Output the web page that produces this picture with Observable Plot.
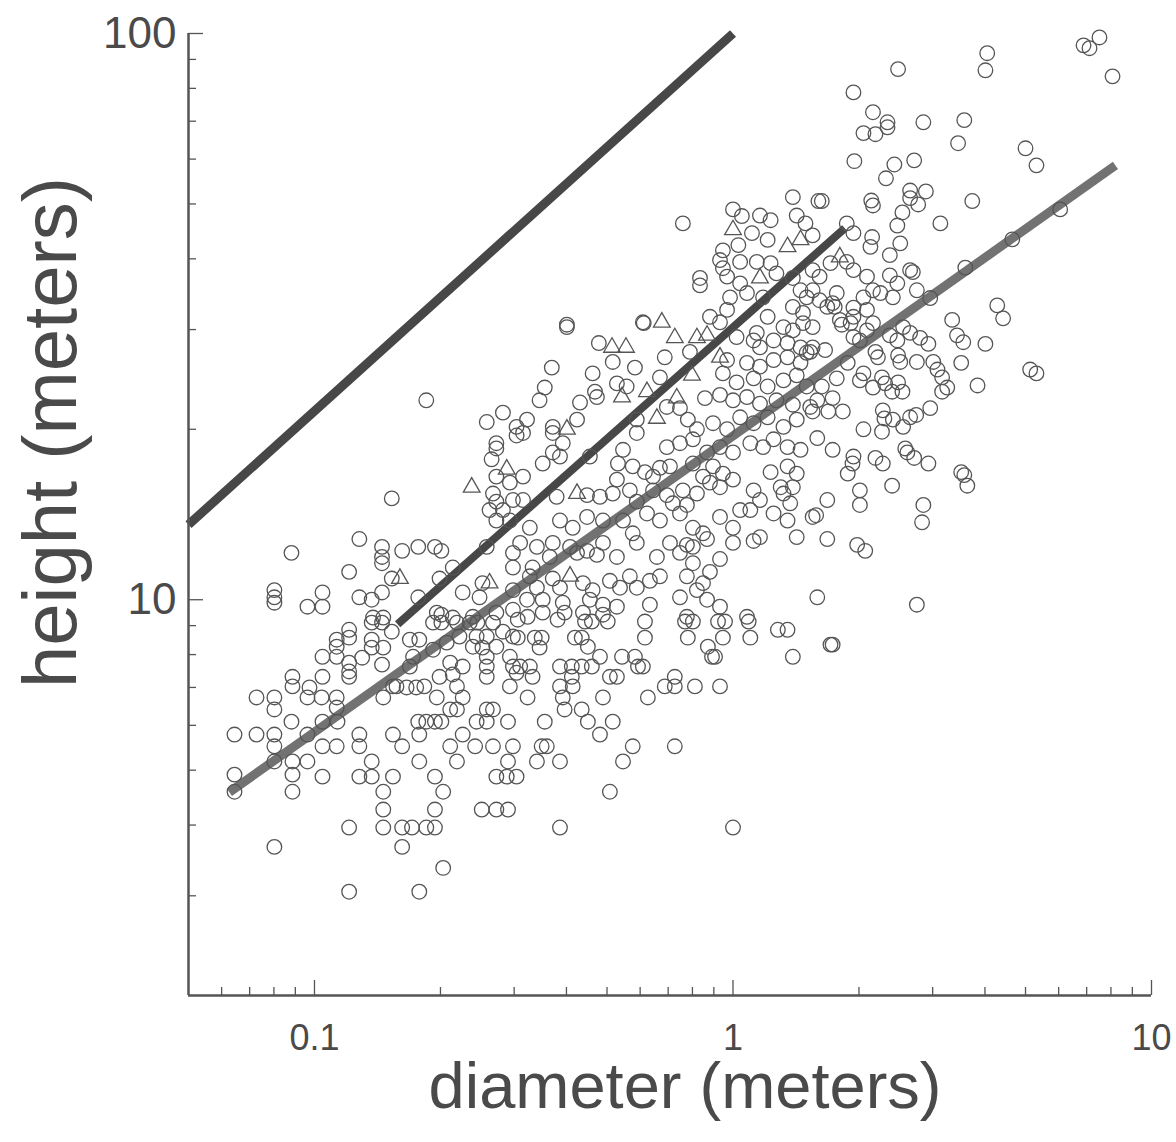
<!DOCTYPE html>
<html>
<head>
<meta charset="utf-8">
<script src="https://cdn.jsdelivr.net/npm/d3@7"></script>
<script src="https://cdn.jsdelivr.net/npm/@observablehq/plot@0.6"></script>
<style>
  html, body { margin: 0; padding: 0; background: #fff; }
  #chart svg { display: block; }
</style>
</head>
<body>
<div id="chart"></div>
<script>
// ---- data: [diameter (m), height (m)] ----
const circles = [
  [7.51,98.4],[6.88,95.3],[7.11,94.2],[4.05,92.3],[4.01,86.1],[8.07,84.0],[2.48,86.5],[1.94,78.7],
  [2.16,72.6],[2.34,69.7],[2.34,68.3],[2.05,66.7],[2.19,66.4],[2.85,69.7],[3.57,70.3],[3.45,64.0],
  [5.00,62.7],[5.31,58.5],[1.95,59.5],[2.43,58.7],[2.71,59.7],[2.32,55.5],[1.63,50.6],[2.14,50.7],
  [2.16,49.7],[2.65,52.8],[2.89,52.6],[2.65,51.2],[2.77,49.9],[3.73,50.6],[2.54,48.3],[2.47,45.8],
  [3.13,46.2],[6.05,48.9],[2.51,42.6],[2.37,40.6],[4.65,43.3],[3.59,38.6],[2.96,34.1],[4.28,33.1],
  [4.42,31.4],[3.34,31.2],[2.37,37.4],[2.47,36.2],[2.65,38.2],[2.69,37.9],[2.75,35.2],[2.25,34.8],
  [2.41,34.2],[2.55,30.3],[1.39,51.4],[1.60,50.6],
  [0.759,46.2],[1.00,48.9],[1.05,47.6],[1.16,47.7],[1.23,46.8],[1.42,47.7],[1.49,46.2],[1.11,44.4],
  [1.21,43.2],[0.946,41.4],[1.03,42.3],[1.55,44.0],[1.87,46.2],[1.94,44.4],[2.15,43.7],[2.13,42.0],
  [0.931,39.8],[0.946,38.5],[1.04,39.5],[1.14,39.5],[1.23,39.3],[0.834,37.0],[0.834,35.9],[1.27,37.7],
  [1.39,37.0],[1.55,38.2],[1.61,37.2],[1.87,39.5],[1.94,38.2],[2.09,37.2],[2.16,35.2],[0.968,37.2],
  [1.04,36.2],[0.984,34.2],[1.08,34.8],[1.18,34.2],[1.45,35.2],[1.50,34.2],[1.55,35.2],[1.61,33.8],
  [1.73,33.4],[1.77,34.8],[1.39,32.9],[1.47,32.1],[1.68,32.9],[0.881,31.6],[0.968,32.5],[1.21,31.6],
  [1.32,30.3],[1.39,29.9],[1.55,30.3],[1.80,31.2],[1.94,31.6],[2.09,32.5],[2.09,29.9],[2.16,30.8],
  [1.14,29.6],[1.71,39.3],[2.05,34.2],[1.75,32.9],[1.94,32.8],[0.609,30.9],[0.401,30.6],
  [3.43,29.3],[3.55,28.5],[4.01,28.3],[3.51,26.2],[3.84,23.9],[5.13,25.5],[5.31,25.1],[2.96,21.8],
  [2.65,21.0],[2.74,21.2],[2.28,21.6],[2.30,20.9],[2.41,20.8],[2.55,20.2],[2.05,20.0],[2.27,19.8],
  [1.59,19.3],[1.73,18.4],[2.58,18.5],[2.61,18.2],[2.71,17.8],[2.93,17.4],[1.94,17.9],[1.93,17.4],
  [1.88,16.7],[2.19,17.8],[2.28,17.4],[3.51,16.8],[3.57,16.6],[3.63,15.9],[2.40,15.9],[2.01,15.6],
  [2.01,14.7],[1.68,15.0],[1.58,14.1],[2.85,14.7],[2.83,13.7],[1.68,12.8],[1.98,12.5],[2.07,12.2],
  [1.59,10.1],[2.75,9.80],[1.82,30.6],[1.91,30.8],[1.66,27.6],[1.53,27.4],[1.94,29.1],[2.01,28.7],
  [2.37,29.3],[2.47,28.7],[2.65,29.6],[2.80,29.0],[2.93,28.3],[2.19,27.4],[2.22,26.8],[2.48,27.0],
  [2.51,26.3],[2.75,26.3],[3.01,26.3],[3.08,25.5],[3.16,24.7],[3.25,23.7],[3.16,23.3],[2.01,24.4],
  [2.05,25.1],[2.16,23.7],[2.27,24.7],[2.31,24.1],[2.48,24.2],[2.40,23.3],[2.54,23.3],[1.88,26.2],
  [1.77,24.6],[1.63,23.8],[1.73,22.7],[1.59,22.5],[1.69,21.5],[1.83,21.5],[1.55,21.5],[1.71,8.33],
  [1.73,8.33],
  [0.401,30.3],[0.612,30.8],[0.931,30.9],[1.47,30.8],[0.478,28.4],[1.02,29.1],[1.12,28.7],[1.16,27.9],
  [1.25,28.7],[1.35,28.4],[1.45,27.9],[1.55,27.9],[0.369,25.7],[0.516,26.3],[0.583,25.7],[0.687,26.8],
  [0.789,27.4],[0.968,26.5],[1.08,26.2],[1.16,25.8],[1.25,26.5],[1.35,26.8],[1.45,26.2],[1.50,27.3],
  [0.462,25.1],[0.528,24.1],[0.557,23.8],[0.669,24.7],[0.946,25.1],[1.02,24.2],[1.12,24.6],[1.21,23.8],
  [1.32,24.4],[1.42,24.9],[1.50,23.8],[0.355,23.7],[0.345,22.5],[0.468,23.3],[0.473,22.8],[0.747,21.8],
  [0.857,22.7],[0.931,23.0],[1.00,22.5],[1.08,22.8],[1.16,22.2],[1.27,22.5],[1.39,22.1],[1.53,21.9],
  [0.431,22.3],[0.695,21.9],[0.322,20.8],[0.424,20.8],[0.371,20.2],[0.371,19.7],[0.589,20.8],[0.780,20.8],
  [0.820,20.0],[0.896,20.5],[0.968,20.0],[1.04,21.0],[1.12,20.5],[1.21,21.0],[1.32,20.2],[1.42,20.8],
  [0.589,19.7],[0.315,19.7],[0.695,18.6],[0.747,18.9],[0.802,19.2],[0.867,18.2],[0.931,18.6],[1.00,18.2],
  [1.10,18.9],[1.18,18.6],[1.25,19.2],[1.35,18.6],[1.45,18.4],[0.392,18.9],[0.371,18.2],[0.386,17.9],
  [0.455,17.9],[0.546,18.4],[0.351,17.4],[0.531,17.4],[0.576,17.2],[0.616,16.8],[0.669,17.1],[0.707,17.2],
  [0.802,17.4],[0.896,17.2],[0.946,16.7],[0.848,16.5],[1.00,16.3],[1.23,16.8],[1.35,17.2],[1.42,16.7],
  [1.39,15.8],[1.30,15.8],[0.528,16.3],[0.644,16.5],[0.315,16.5],[0.448,15.3],[0.481,15.2],[0.516,15.4],
  [0.567,15.6],[0.644,15.6],[0.695,15.3],[0.759,15.6],[0.820,15.4],[0.881,16.1],[0.931,15.8],[1.12,15.6],
  [1.16,15.0],[1.32,15.4],[1.37,14.8],[0.379,15.2],[0.315,15.0],[0.589,14.9],[0.718,14.8],[0.776,14.7],
  [1.04,14.4],[0.386,13.8],[0.448,14.0],[0.489,13.8],[0.546,13.8],[0.623,14.2],[0.669,13.8],[0.747,14.2],
  [0.802,13.4],[0.931,14.0],[1.00,13.4],[1.10,14.4],[1.25,14.2],[1.35,13.8],[1.55,14.0],[0.327,13.4],
  [0.414,13.4],[0.576,13.1],[0.848,13.1],[0.310,12.6],[0.340,12.4],[0.371,12.6],[0.408,12.4],[0.448,12.2],
  [0.489,12.6],[0.589,12.6],[0.707,12.6],[0.776,12.5],[0.802,12.4],[0.867,12.8],[1.00,12.6],[1.12,12.7],
  [1.16,12.9],[1.42,12.9],[0.365,11.9],[0.424,12.1],[0.473,12.0],[0.528,11.9],[0.658,11.9],[0.747,12.1],
  [0.802,11.6],[0.931,11.8],[0.332,11.4],[0.327,11.0],[0.371,10.9],[0.438,10.7],[0.508,10.8],[0.567,11.0],
  [0.633,10.8],[0.669,11.0],[0.776,11.0],[0.848,10.7],[0.881,11.2],[0.340,10.5],[0.386,10.5],[0.462,10.4],
  [0.537,10.5],[0.589,10.5],[0.820,10.4],[0.322,10.0],[0.351,10.0],[0.392,9.88],[0.455,10.0],[0.489,9.80],
  [0.528,9.72],[0.633,9.80],[0.747,10.1],[0.867,10.0],[0.931,9.72],[0.351,9.49],[0.438,9.49],[0.489,9.41],
  [0.776,9.33],[1.08,9.33],
  [0.185,22.5],[0.258,20.6],[0.282,21.4],[0.304,20.2],[0.304,19.5],[0.272,18.9],[0.272,18.5],[0.265,17.7],
  [0.272,16.5],[0.293,16.1],[0.153,15.1],[0.267,15.4],[0.272,14.9],[0.262,14.4],[0.282,14.4],[0.298,15.0],
  [0.272,13.8],[0.293,13.8],[0.128,12.8],[0.145,12.4],[0.145,11.9],[0.145,11.6],[0.162,12.2],[0.177,12.4],
  [0.194,12.4],[0.201,12.2],[0.0881,12.1],[0.121,11.2],[0.153,10.9],[0.0802,10.4],[0.0802,10.1],[0.0802,9.88],
  [0.1045,10.3],[0.0962,9.72],[0.1045,9.72],[0.128,10.1],[0.137,10.0],[0.145,10.3],[0.177,10.1],[0.199,10.9],
  [0.214,11.4],[0.226,10.3],[0.252,10.7],[0.248,10.1],[0.298,12.1],[0.298,11.4],[0.298,10.4],[0.258,12.4],
  [0.298,9.60],[0.138,9.30],[0.146,9.30],[0.196,9.49],[0.214,9.30],[0.239,9.33],[0.272,9.49],
  [0.137,9.11],[0.145,9.11],[0.153,8.78],[0.192,9.11],[0.201,9.11],[0.201,9.41],[0.219,9.11],[0.235,9.11],
  [0.245,9.11],[0.267,9.11],[0.282,8.78],[0.121,8.85],[0.121,8.57],[0.113,8.50],[0.113,8.26],[0.1045,7.93],
  [0.113,7.93],[0.130,7.90],[0.121,7.74],[0.137,8.50],[0.137,8.23],[0.146,8.23],[0.145,7.68],[0.169,8.50],
  [0.178,8.50],[0.192,8.16],[0.172,7.93],[0.169,7.62],[0.207,8.40],[0.222,8.61],[0.244,8.61],[0.258,8.61],
  [0.239,8.26],[0.252,8.23],[0.272,8.26],[0.258,7.93],[0.298,8.61],[0.293,7.93],[0.211,7.74],[0.226,7.62],
  [0.258,7.62],[0.258,7.31],[0.298,7.62],[0.304,7.43],[0.121,7.47],[0.121,7.31],[0.0886,7.31],[0.0886,7.03],
  [0.1045,7.31],[0.0973,7.00],[0.0962,6.72],[0.0727,6.72],[0.0802,6.72],[0.0802,6.40],[0.104,6.72],[0.113,6.72],
  [0.113,6.45],[0.157,7.03],[0.166,7.00],[0.175,7.00],[0.183,7.03],[0.146,6.72],[0.154,7.03],[0.199,7.31],
  [0.214,7.38],[0.219,7.03],[0.226,6.72],[0.196,6.72],[0.293,7.03],[0.0881,6.09],[0.1045,6.09],[0.1135,6.09],
  [0.177,6.09],[0.185,6.09],[0.194,6.09],[0.201,6.09],[0.211,6.40],[0.219,6.40],[0.244,6.09],[0.258,6.40],
  [0.267,6.40],[0.258,6.09],[0.290,6.09],[0.0644,5.78],[0.0727,5.78],[0.0802,5.78],[0.0962,5.78],[0.128,5.78],
  [0.154,5.78],[0.178,5.78],[0.226,5.78],[0.0802,5.51],[0.1045,5.51],[0.113,5.51],[0.128,5.51],[0.162,5.51],
  [0.211,5.51],[0.242,5.51],[0.267,5.51],[0.298,5.51],[0.0802,5.18],[0.0886,5.18],[0.0962,5.18],[0.137,5.18],
  [0.178,5.18],[0.219,5.18],[0.290,5.18],[0.0644,4.91],[0.0644,4.58],[0.0886,4.91],[0.0886,4.58],[0.1045,4.87],
  [0.128,4.87],[0.137,4.87],[0.154,4.87],[0.194,4.87],[0.272,4.87],[0.288,4.87],[0.304,4.87],[0.146,4.58],
  [0.203,4.58],[0.146,4.26],[0.194,4.26],[0.251,4.26],[0.272,4.26],[0.290,4.26],[0.121,3.96],[0.146,3.96],
  [0.162,3.96],[0.171,3.96],[0.185,3.96],[0.194,3.96],[0.0802,3.66],[0.162,3.66],[0.203,3.36],[0.121,3.05],
  [0.178,3.05],
  [0.306,9.22],[0.323,9.33],[0.381,9.22],[0.396,9.49],[0.443,9.15],[0.460,9.15],[0.502,9.15],[0.616,9.15],
  [0.768,9.15],[0.802,9.15],[0.921,9.15],[0.957,9.15],[1.09,9.15],[1.28,8.85],[1.35,8.85],[0.306,8.57],
  [0.336,8.57],[0.349,8.57],[0.419,8.57],[0.435,8.57],[0.450,8.26],[0.345,8.23],[0.616,8.57],[0.780,8.57],
  [0.946,8.57],[1.10,8.57],[0.871,8.26],[0.891,7.93],[0.906,7.93],[1.39,7.93],[0.481,7.93],[0.543,7.93],
  [0.583,7.93],[0.593,7.62],[0.609,7.62],[0.310,7.62],[0.327,7.62],[0.386,7.62],[0.412,7.62],[0.435,7.62],
  [0.460,7.62],[0.332,7.31],[0.412,7.31],[0.508,7.31],[0.528,7.31],[0.386,7.03],[0.414,7.03],[0.687,7.03],
  [0.726,7.31],[0.726,7.03],[0.811,7.03],[0.931,7.03],[0.323,6.72],[0.392,6.72],[0.489,6.72],[0.626,6.72],
  [0.396,6.40],[0.435,6.40],[0.355,6.09],[0.450,6.09],[0.516,6.09],[0.481,5.78],[0.349,5.51],[0.359,5.51],
  [0.576,5.51],[0.726,5.51],[0.340,5.18],[0.386,5.18],[0.546,5.18],[0.508,4.58],[0.386,3.96],[1.00,3.96]
];
const triangles = [
  [0.514,27.9],[0.555,27.9],[0.726,29.0],[0.820,29.0],[0.867,29.3],[0.676,30.9],[0.931,26.8],[0.798,24.9],
  [0.543,22.8],[0.623,23.3],[0.734,22.7],[0.658,20.9],[0.401,20.0],[0.424,15.4],[0.408,11.0],[0.288,17.0],
  [0.2375,15.8],[0.160,10.9],[0.262,10.7],[1.00,45.0],[1.35,42.0],[1.45,43.2],[1.16,37.0],[1.80,40.3]
];
// fitted / limit lines, endpoints [diameter, height]
const limitLine = [[0.05, 13.57], [1, 100]];
const groupLine = [[0.158, 9.05], [1.85, 45.3]];
const overallLine = [[0.0626, 4.57], [8.2, 58.5]];
// axis ticks and labels
const xMajor = [0.1, 1, 10];
const xLabels = ["0.1", "1", "10"];
const xMinor = [0.06, 0.07, 0.08, 0.09, 0.2, 0.3, 0.4, 0.5, 0.6, 0.7, 0.8, 0.9, 2, 3, 4, 5, 6, 7, 8, 9];
const yMajor = [10, 100];
const yLabels = ["10", "100"];
const yMinor = [3, 4, 5, 6, 7, 8, 9, 20, 30, 40, 50, 60, 70, 80, 90];
const xTitle = "diameter (meters)";
const yTitle = "height (meters)";

// ---- layout ----
const W = 1176, H = 1142;
const mL = 188, mR = 25, mT = 33, mB = 147;
const plotW = W - mL - mR, plotH = H - mT - mB;
const ink = "#4a4a4a";

const chart = Plot.plot({
  width: W, height: H,
  marginLeft: mL, marginRight: mR, marginTop: mT, marginBottom: mB,
  x: {type: "log", domain: [0.05, 10], axis: null},
  y: {type: "log", domain: [2, 100], axis: null},
  style: {fontFamily: "'Liberation Sans', Arial, Helvetica, sans-serif", background: "#fff", color: ink},
  marks: [
    Plot.line(overallLine, {x: d => d[0], y: d => d[1], stroke: "#727272", strokeWidth: 9, strokeLinecap: "butt"}),
    Plot.line(groupLine, {x: d => d[0], y: d => d[1], stroke: "#474747", strokeWidth: 8, strokeLinecap: "butt"}),
    Plot.line(limitLine, {x: d => d[0], y: d => d[1], stroke: "#474747", strokeWidth: 9, strokeLinecap: "butt"}),
    Plot.dot(circles, {x: d => d[0], y: d => d[1], r: 7.3, stroke: "#555", strokeWidth: 1.3, fill: "none"}),
    Plot.dot(triangles, {x: d => d[0], y: d => d[1], symbol: "triangle", r: 6.2, stroke: "#555", strokeWidth: 1.3, fill: "none"}),
    // axis lines
    Plot.ruleX([0.05], {stroke: "#555", strokeWidth: 2.5}),
    Plot.ruleY([2], {stroke: "#555", strokeWidth: 2.5}),
    // inward ticks
    Plot.tickX(xMajor, {x: d => d, insetTop: plotH - 15, stroke: "#555", strokeWidth: 1.3}),
    Plot.tickX(xMinor, {x: d => d, insetTop: plotH - 8, stroke: "#555", strokeWidth: 1.3}),
    Plot.tickY(yMajor, {y: d => d, insetRight: plotW - 15, stroke: "#555", strokeWidth: 1.3}),
    Plot.tickY(yMinor, {y: d => d, insetRight: plotW - 8, stroke: "#555", strokeWidth: 1.3}),
    // tick labels
    Plot.text(xMajor, {x: d => d, text: (d, i) => xLabels[i], frameAnchor: "bottom", lineAnchor: "middle", textAnchor: "middle", dy: 43, fontSize: 36, fill: ink}),
    Plot.text(yMajor, {y: d => d, text: (d, i) => yLabels[i], frameAnchor: "left", lineAnchor: "middle", textAnchor: "end", dx: -12, fontSize: 44, fill: ink}),
    // axis titles
    Plot.text([xTitle], {text: d => d, frameAnchor: "bottom", lineAnchor: "middle", textAnchor: "middle", dx: 15, dy: 92, fontSize: 65, fill: ink}),
    Plot.text([yTitle], {text: d => d, frameAnchor: "left", lineAnchor: "middle", textAnchor: "middle", rotate: -90, dx: -137, dy: -82, fontSize: 76, fill: ink})
  ]
});
document.getElementById("chart").appendChild(chart);
</script>
</body>
</html>
